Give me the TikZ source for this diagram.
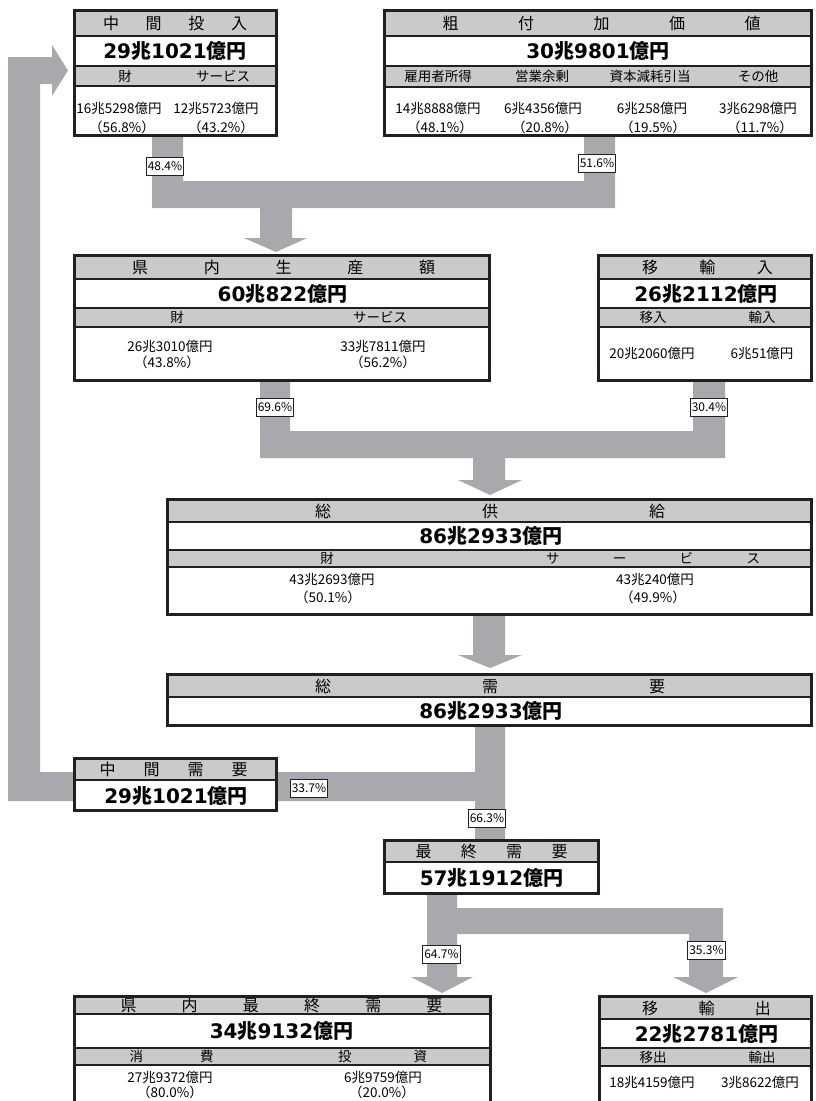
\documentclass[tikz,border=0pt]{standalone}
\usepackage{fontspec}
\setmainfont{Noto Sans CJK JP}
\newfontfamily\dvfont{DejaVu Sans}
\usetikzlibrary{fit}
\definecolor{hdr}{RGB}{201,202,204}
\definecolor{flow}{RGB}{167,169,172}
\definecolor{bd}{RGB}{35,31,32}
\newcommand\Val[2]{{\dvfont\bfseries #1}{\bfseries 兆}{\dvfont\bfseries #2}{\bfseries 億円}}
\newcommand\spreadbox[2]{\makebox[#1pt]{#2}}
\tikzset{
  frame/.style={draw=bd, line width=3pt, inner sep=0pt},
  divl/.style={draw=bd, line width=2pt},
  hd/.style={font=\fontsize{16}{18}\selectfont, inner sep=0pt},
  val/.style={font=\fontsize{20}{22}\selectfont, inner sep=0pt},
  subt/.style={font=\fontsize{13.5}{15}\selectfont, inner sep=0pt},
  dat/.style={font=\fontsize{13.5}{15}\selectfont, inner sep=0pt},
  pct/.style={draw=bd, line width=0.8pt, fill=white, font=\fontsize{12}{13}\selectfont, inner xsep=1.5pt, inner ysep=0pt, minimum height=18pt},
  flowshape/.style={fill=flow}
}
\begin{document}
\begin{tikzpicture}[x=1pt,y=-1pt]
\useasboundingbox (0,0) rectangle (815,1101);
\clip (0,0) rectangle (815,1101);
\fill[white] (0,0) rectangle (815,1101);
% ---------- flows ----------
\fill[flowshape] (8,801) -- (8,57) -- (52,57) -- (52,45) -- (68,70.5) -- (52,96) -- (52,84) -- (40,84) -- (40,772) -- (475,772) -- (475,727) -- (505,727) -- (505,840) -- (475,840) -- (475,801) -- cycle;
\fill[flowshape] (152,137) -- (183,137) -- (183,181) -- (584,181) -- (584,137) -- (615,137) -- (615,208) -- (292,208) -- (292,238) -- (307,238) -- (276,252) -- (244,238) -- (260,238) -- (260,208) -- (152,208) -- cycle;
\fill[flowshape] (260,382) -- (290,382) -- (290,431) -- (693,431) -- (693,382) -- (725,382) -- (725,458) -- (505,458) -- (505,480) -- (522,480) -- (490,495) -- (458,480) -- (473,480) -- (473,458) -- (260,458) -- cycle;
\fill[flowshape] (473,615) -- (505,615) -- (505,655) -- (522,655) -- (490,668) -- (458,655) -- (473,655) -- cycle;
\fill[flowshape] (427,894) -- (457,894) -- (457,908) -- (723,908) -- (723,977) -- (738,977) -- (706,993) -- (673,977) -- (689,977) -- (689,934) -- (457,934) -- (457,977) -- (473,977) -- (442,993) -- (411,977) -- (427,977) -- cycle;

% ---------- B1 中間投入 ----------
\fill[white] (74,10) rectangle (276,135.5);
\fill[hdr] (74,10) rectangle (276,36);
\fill[hdr] (74,66) rectangle (276,86);
\draw[divl] (74,36) -- (276,36) (74,66) -- (276,66) (74,86) -- (276,86);
\node[frame, fit={(74,10) (276,135.5)}] (b1) {};
\node[hd] (b1h) at (175,23) {\spreadbox{144}{中\hfill 間\hfill 投\hfill 入}};
\node[val] (b1v) at (175,51) {\Val{29}{1021}};
\node[subt] (b1s1) at (125,76) {財};
\node[subt] (b1s2) at (223,76) {サービス};
\node[dat] (b1d1) at (119,108) {16兆5298億円};
\node[dat] (b1d2) at (122,127) {（56.8\%）};
\node[dat] (b1d3) at (216,108) {12兆5723億円};
\node[dat] (b1d4) at (221,127) {（43.2\%）};

% ---------- B2 粗付加価値 ----------
\fill[white] (384,10) rectangle (811.5,135.5);
\fill[hdr] (384,10) rectangle (811.5,36);
\fill[hdr] (384,66) rectangle (811.5,87);
\draw[divl] (384,36) -- (811.5,36) (384,66) -- (811.5,66) (384,87) -- (811.5,87);
\node[frame, fit={(384,10) (811.5,135.5)}] (b2) {};
\node[hd] (b2h) at (601.5,23) {\spreadbox{318}{粗\hfill 付\hfill 加\hfill 価\hfill 値}};
\node[val] (b2v) at (598,51) {\Val{30}{9801}};
\node[subt] (b2s1) at (438,76.5) {雇用者所得};
\node[subt] (b2s2) at (542,76.5) {営業余剰};
\node[subt] (b2s3) at (650,76.5) {資本減耗引当};
\node[subt] (b2s4) at (758,76.5) {その他};
\node[dat] (b2d1) at (438,108) {14兆8888億円};
\node[dat] (b2d2) at (543,108) {6兆4356億円};
\node[dat] (b2d3) at (652,108) {6兆258億円};
\node[dat] (b2d4) at (758,108) {3兆6298億円};
\node[dat] (b2e1) at (440,127) {（48.1\%）};
\node[dat] (b2e2) at (545,127) {（20.8\%）};
\node[dat] (b2e3) at (653,127) {（19.5\%）};
\node[dat] (b2e4) at (760,127) {（11.7\%）};

% ---------- B3 県内生産額 ----------
\fill[white] (74.5,255.5) rectangle (489,380.5);
\fill[hdr] (74.5,255.5) rectangle (489,278.5);
\fill[hdr] (74.5,308) rectangle (489,327);
\draw[divl] (74.5,278.5) -- (489,278.5) (74.5,308) -- (489,308) (74.5,327) -- (489,327);
\node[frame, fit={(74.5,255.5) (489,380.5)}] (b3) {};
\node[hd] (b3h) at (283.5,267) {\spreadbox{303}{県\hfill 内\hfill 生\hfill 産\hfill 額}};
\node[val] (b3v) at (282.5,293.5) {\Val{60}{822}};
\node[subt] (b3s1) at (177,317.5) {財};
\node[subt] (b3s2) at (380,317.5) {サービス};
\node[dat] (b3d1) at (170,346) {26兆3010億円};
\node[dat] (b3d2) at (167,362) {（43.8\%）};
\node[dat] (b3d3) at (383,346) {33兆7811億円};
\node[dat] (b3d4) at (383,362) {（56.2\%）};

% ---------- B4 移輸入 ----------
\fill[white] (598,255.5) rectangle (811.5,380.5);
\fill[hdr] (598,255.5) rectangle (811.5,279);
\fill[hdr] (598,308) rectangle (811.5,327);
\draw[divl] (598,279) -- (811.5,279) (598,308) -- (811.5,308) (598,327) -- (811.5,327);
\node[frame, fit={(598,255.5) (811.5,380.5)}] (b4) {};
\node[hd] (b4h) at (707.5,267) {\spreadbox{131}{移\hfill 輸\hfill 入}};
\node[val] (b4v) at (706,293.5) {\Val{26}{2112}};
\node[subt] (b4s1) at (653,317.5) {移入};
\node[subt] (b4s2) at (762,317.5) {輸入};
\node[dat] (b4d1) at (652,353) {20兆2060億円};
\node[dat] (b4d2) at (762,353) {6兆51億円};

% ---------- B5 総供給 ----------
\fill[white] (167.5,499.5) rectangle (811.5,614);
\fill[hdr] (167.5,499.5) rectangle (811.5,522);
\fill[hdr] (167.5,550) rectangle (811.5,566.5);
\draw[divl] (167.5,522) -- (811.5,522) (167.5,550) -- (811.5,550) (167.5,566.5) -- (811.5,566.5);
\node[frame, fit={(167.5,499.5) (811.5,614)}] (b5) {};
\node[hd] (b5h) at (490,511) {\spreadbox{350}{総\hfill 供\hfill 給}};
\node[val] (b5v) at (491,536) {\Val{86}{2933}};
\node[subt] (b5s1) at (327,558) {財};
\node[subt] (b5s2) at (653,558) {\spreadbox{214}{サ\hfill ー\hfill ビ\hfill ス}};
\node[dat] (b5d1) at (332,579) {43兆2693億円};
\node[dat] (b5d2) at (328,597) {（50.1\%）};
\node[dat] (b5d3) at (655,579) {43兆240億円};
\node[dat] (b5d4) at (653,597) {（49.9\%）};

% ---------- B6 総需要 ----------
\fill[white] (167.5,674.5) rectangle (811.5,725.5);
\fill[hdr] (167.5,674.5) rectangle (811.5,697);
\draw[divl] (167.5,697) -- (811.5,697);
\node[frame, fit={(167.5,674.5) (811.5,725.5)}] (b6) {};
\node[hd] (b6h) at (490,686) {\spreadbox{350}{総\hfill 需\hfill 要}};
\node[val] (b6v) at (491,711) {\Val{86}{2933}};

% ---------- B7 中間需要 ----------
\fill[white] (74.5,758) rectangle (276.5,810.5);
\fill[hdr] (74.5,758) rectangle (276.5,780);
\draw[divl] (74.5,780) -- (276.5,780);
\node[frame, fit={(74.5,758) (276.5,810.5)}] (b7) {};
\node[hd] (b7h) at (173.5,769) {\spreadbox{148}{中\hfill 間\hfill 需\hfill 要}};
\node[val] (b7v) at (176,796) {\Val{29}{1021}};

% ---------- B8 最終需要 ----------
\fill[white] (384,840.5) rectangle (598.5,893);
\fill[hdr] (384,840.5) rectangle (598.5,862);
\draw[divl] (384,862) -- (598.5,862);
\node[frame, fit={(384,840.5) (598.5,893)}] (b8) {};
\node[hd] (b8h) at (491.5,851) {\spreadbox{152}{最\hfill 終\hfill 需\hfill 要}};
\node[val] (b8v) at (491.5,878) {\Val{57}{1912}};

% ---------- B9 県内最終需要 ----------
\fill[white] (74.5,996.5) rectangle (490.5,1110);
\fill[hdr] (74.5,996.5) rectangle (490.5,1014);
\fill[hdr] (74.5,1048) rectangle (490.5,1065);
\draw[divl] (74.5,1014) -- (490.5,1014) (74.5,1048) -- (490.5,1048) (74.5,1065) -- (490.5,1065);
\node[frame, fit={(74.5,996.5) (490.5,1110)}] (b9) {};
\node[hd] (b9h) at (281.5,1005) {\spreadbox{322}{県\hfill 内\hfill 最\hfill 終\hfill 需\hfill 要}};
\node[val] (b9v) at (281.5,1031) {\Val{34}{9132}};
\node[subt] (b9s1) at (171.5,1056) {\spreadbox{84}{消\hfill 費}};
\node[subt] (b9s2) at (382.5,1056) {\spreadbox{89}{投\hfill 資}};
\node[dat] (b9d1) at (170,1077) {27兆9372億円};
\node[dat] (b9d2) at (170,1092) {（80.0\%）};
\node[dat] (b9d3) at (383,1077) {6兆9759億円};
\node[dat] (b9d4) at (382,1092) {（20.0\%）};

% ---------- B10 移輸出 ----------
\fill[white] (599,996.5) rectangle (811.5,1110);
\fill[hdr] (599,996.5) rectangle (811.5,1019);
\fill[hdr] (599,1048) rectangle (811.5,1066);
\draw[divl] (599,1019) -- (811.5,1019) (599,1048) -- (811.5,1048) (599,1066) -- (811.5,1066);
\node[frame, fit={(599,996.5) (811.5,1110)}] (b10) {};
\node[hd] (b10h) at (706.5,1008) {\spreadbox{129}{移\hfill 輸\hfill 出}};
\node[val] (b10v) at (706.5,1034) {\Val{22}{2781}};
\node[subt] (b10s1) at (653,1057) {移出};
\node[subt] (b10s2) at (762,1057) {輸出};
\node[dat] (b10d1) at (652,1082) {18兆4159億円};
\node[dat] (b10d2) at (760,1082) {3兆8622億円};

% ---------- percentage labels ----------
\node[pct] (p1) at (165,166) {48.4\%};
\node[pct] (p2) at (597,163) {51.6\%};
\node[pct] (p3) at (275,407) {69.6\%};
\node[pct] (p4) at (709,407) {30.4\%};
\node[pct] (p5) at (309,788) {33.7\%};
\node[pct] (p6) at (487,818) {66.3\%};
\node[pct] (p7) at (441.5,954.5) {64.7\%};
\node[pct] (p8) at (706.5,950) {35.3\%};
\end{tikzpicture}
\end{document}
